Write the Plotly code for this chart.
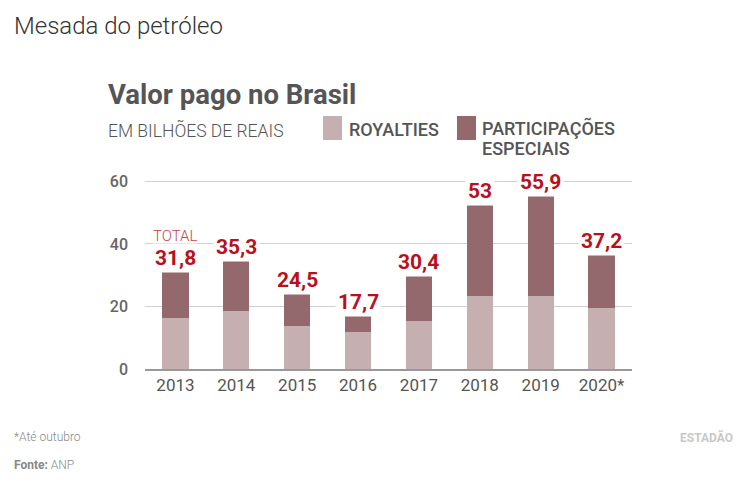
import plotly.graph_objects as go

years = ["2013", "2014", "2015", "2016", "2017", "2018", "2019", "2020*"]
royalties = [16.4, 18.5, 13.9, 11.8, 15.3, 23.5, 23.5, 19.4]
participacoes = [15.4, 16.8, 10.6, 5.9, 15.1, 29.5, 32.4, 17.8]
totals = [31.8, 35.3, 24.5, 17.7, 30.4, 53.0, 55.9, 37.2]
total_labels = ["31,8", "35,3", "24,5", "17,7", "30,4", "53", "55,9", "37,2"]
y_ticks = [0, 20, 40, 60]

W, H = 750, 486
L, R, T, B = 145, 118, 178, 117
PW, PH = W - L - R, H - T - B
Y_TOP = 61.1

C_ROY = "#c5afb1"
C_PE = "#94696d"
C_RED = "#b8111c"
FONT = "Roboto"

xpos = list(range(len(years)))


def px(x):
    return (x - L) / PW


def py(y):
    return (H - B - y) / PH


fig = go.Figure()
fig.add_trace(go.Bar(x=xpos, y=royalties, name="ROYALTIES", width=0.43,
                     marker=dict(color=C_ROY, line=dict(width=0))))
fig.add_trace(go.Bar(x=xpos, y=participacoes, name="PARTICIPAÇÕES ESPECIAIS", width=0.43,
                     marker=dict(color=C_PE, line=dict(width=0))))

annotations = []
for xi, tot, lab in zip(xpos, totals, total_labels):
    annotations.append(dict(x=xi, y=tot, xref="x", yref="y", text=lab, showarrow=False,
                            yanchor="bottom", xanchor="center", yshift=-3,
                            bgcolor="white", borderpad=2,
                            font=dict(family=FONT, size=21, color=C_RED, weight=700)))
annotations.append(dict(x=xpos[0], y=totals[0], xref="x", yref="y", text="TOTAL", showarrow=False,
                        yanchor="bottom", xanchor="center", yshift=23,
                        font=dict(family=FONT, size=15, color="#c9444c", weight=300)))

texts = [
    (12, 26, "Mesada do petróleo", 24, "#333333", 300, "left"),
    (106, 94, "Valor pago no Brasil", 27.5, "#555555", 700, "left"),
    (106, 130, "EM BILHÕES DE REAIS", 17.5, "#555555", 300, "left"),
    (347, 129, "ROYALTIES", 18, "#555555", 500, "left"),
    (480, 128, "PARTICIPAÇÕES", 18, "#555555", 500, "left"),
    (480, 149, "ESPECIAIS", 18, "#555555", 500, "left"),
    (12, 437, "*Até outubro", 12, "#888888", 300, "left"),
    (12, 465, "<b>Fonte:</b> ANP", 12, "#888888", 300, "left"),
    (735, 437, "<b>ESTADÃO</b>", 12, "#c8c8c8", 700, "right"),
]
for x, y, t, s, c, w, xa in texts:
    annotations.append(dict(x=px(x), y=py(y), xref="paper", yref="paper", text=t, showarrow=False,
                            xanchor=xa, yanchor="middle",
                            font=dict(family=FONT, size=s, color=c, weight=w)))

shapes = [
    dict(type="rect", xref="paper", yref="paper", x0=px(323), x1=px(342), y0=py(140), y1=py(116),
         fillcolor=C_ROY, line=dict(width=0)),
    dict(type="rect", xref="paper", yref="paper", x0=px(457), x1=px(476), y0=py(140), y1=py(116),
         fillcolor=C_PE, line=dict(width=0)),
]

fig.update_layout(
    width=W, height=H, barmode="stack", showlegend=False,
    margin=dict(l=L, r=R, t=T, b=B),
    paper_bgcolor="white", plot_bgcolor="white",
    font=dict(family=FONT, color="#555555"),
    annotations=annotations, shapes=shapes,
    xaxis=dict(range=[-0.5, len(years) - 0.5], tickvals=xpos, ticktext=years,
               tickfont=dict(family=FONT, size=17, color="#555555"), ticks="", showgrid=False,
               zeroline=False, showline=True, linecolor="#999999", linewidth=1.5, fixedrange=True),
    yaxis=dict(range=[0, Y_TOP], tickvals=y_ticks, tickfont=dict(family=FONT, size=16, color="#666666", weight=500),
               showgrid=True, gridcolor="#d0d0d0", gridwidth=1, zeroline=False, ticks="",
               ticklabelstandoff=16, fixedrange=True),
)

fig.write_html("out.html")
